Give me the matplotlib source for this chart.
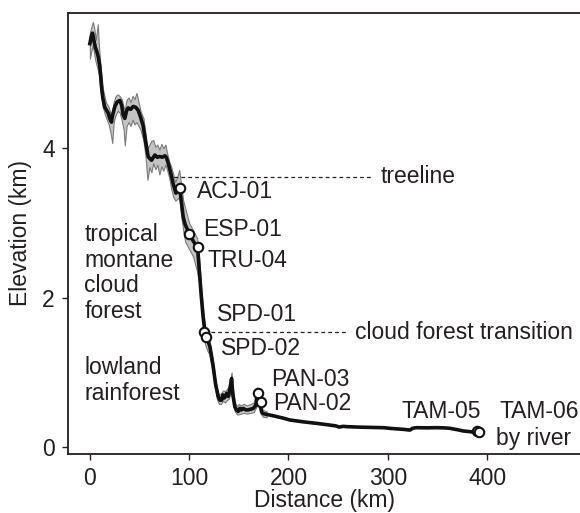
import matplotlib
matplotlib.use("Agg")
import matplotlib.pyplot as plt
import numpy as np

plt.rcParams['font.family'] = ['Liberation Sans', 'DejaVu Sans']

# ---- data ----
dist_km = [0, 1.5, 2.7, 4, 5.5, 6.7, 8.5, 10, 11, 11.8, 13, 15, 16.8, 18.5, 20, 21.8, 23, 25.2,
           27.5, 30.2, 32, 33.5, 35.2, 37, 38.6, 41, 43.6, 46, 48.6, 51, 53.7, 56, 58.7, 60.5,
           62.1, 64, 65.5, 68, 70.5, 73, 75.5, 77, 78.9, 80.5, 82.3, 84, 86.6, 88.5, 90.6, 92,
           94, 96, 98, 100, 102, 104, 106, 108.4, 110, 112, 114, 115.8, 117, 119, 120.8, 122.5,
           124.2, 126.5, 129.2, 131, 132.6, 134, 135.5, 137.7, 139.4, 141, 142.7, 144, 146,
           147.5, 149.4, 151, 152.5, 154.4, 157, 159.4, 162, 164.5, 166.5, 167.8, 168.5, 170,
           171.5, 173, 174.5, 177.9, 185, 194.7, 201.4, 215, 228.3, 240, 248, 251, 255, 258.5,
           270, 285, 295.4, 305, 315.6, 322.3, 325, 329, 340, 349, 356, 362.5, 370, 376, 382,
           387.7, 392]
elev_km = [5.40, 5.50, 5.54, 5.45, 5.35, 5.31, 5.22, 5.10, 4.95, 4.82, 4.68, 4.55, 4.51, 4.47,
           4.40, 4.35, 4.45, 4.56, 4.62, 4.64, 4.58, 4.45, 4.40, 4.50, 4.54, 4.52, 4.56, 4.55,
           4.51, 4.42, 4.30, 4.10, 3.89, 3.86, 3.84, 3.88, 3.91, 3.88, 3.89, 3.88, 3.90, 3.88,
           3.80, 3.72, 3.62, 3.52, 3.40, 3.43, 3.47, 3.30, 3.08, 2.98, 2.92, 2.85, 2.82, 2.76,
           2.72, 2.68, 2.40, 2.05, 1.75, 1.55, 1.48, 1.42, 1.35, 1.22, 1.08, 0.85, 0.68, 0.63,
           0.63, 0.70, 0.66, 0.72, 0.68, 0.78, 0.92, 0.70, 0.54, 0.50, 0.48, 0.52, 0.50, 0.52,
           0.50, 0.50, 0.51, 0.52, 0.55, 0.60, 0.70, 0.68, 0.58, 0.47, 0.45, 0.44, 0.42, 0.39,
           0.365, 0.34, 0.32, 0.30, 0.285, 0.27, 0.28, 0.276, 0.27, 0.265, 0.262, 0.25, 0.24,
           0.23, 0.255, 0.262, 0.26, 0.262, 0.26, 0.254, 0.235, 0.218, 0.21, 0.20, 0.20]

band_x = [0, 1.5, 3, 4.5, 6, 8, 9, 11, 13, 16, 19, 21, 22.5, 24, 26, 28, 30, 32, 34, 35.2, 37,
          39, 41, 43, 45, 47, 49, 51, 54, 56, 58, 60, 62, 63.8, 66, 68, 70, 72, 74, 76, 78, 80,
          82, 84, 86, 88, 90, 92, 94, 96, 98, 100, 102, 104, 106, 108, 110, 112, 114, 116, 118,
          120, 122, 124, 126, 128, 130, 132, 134, 136, 138, 140, 142.7, 144, 146, 148, 150,
          152, 155, 158, 162, 165, 168, 170, 172, 174, 178]
band_lo = [5.20, 5.30, 5.38, 5.25, 5.15, 5.05, 5.00, 4.75, 4.55, 4.42, 4.32, 4.20, 4.07, 4.35,
           4.45, 4.50, 4.48, 4.38, 4.25, 4.04, 4.30, 4.35, 4.30, 4.38, 4.32, 4.35, 4.30, 4.25,
           4.10, 3.90, 3.58, 3.75, 3.68, 3.80, 3.72, 3.78, 3.65, 3.76, 3.70, 3.78, 3.70, 3.60,
           3.45, 3.35, 3.30, 3.32, 3.35, 3.10, 2.90, 2.75, 2.70, 2.65, 2.60, 2.55, 2.45, 2.35,
           2.20, 1.90, 1.62, 1.38, 1.30, 1.25, 1.12, 0.98, 0.80, 0.64, 0.58, 0.58, 0.62, 0.60,
           0.63, 0.65, 0.80, 0.62, 0.48, 0.44, 0.44, 0.45, 0.46, 0.45, 0.46, 0.47, 0.55, 0.55,
           0.45, 0.41, 0.40]
band_hi = [5.55, 5.62, 5.69, 5.60, 5.45, 5.66, 5.40, 5.05, 4.80, 4.62, 4.55, 4.45, 4.50, 4.62,
           4.70, 4.72, 4.70, 4.66, 4.55, 4.52, 4.65, 4.68, 4.62, 4.70, 4.66, 4.74, 4.62, 4.50,
           4.40, 4.20, 4.00, 4.05, 4.10, 4.11, 4.02, 4.05, 3.98, 4.06, 4.00, 4.05, 3.92, 3.82,
           3.75, 3.65, 3.55, 3.62, 3.71, 3.50, 3.30, 3.20, 3.10, 3.00, 2.95, 2.90, 2.85, 2.80,
           2.55, 2.15, 1.85, 1.62, 1.55, 1.45, 1.30, 1.15, 0.95, 0.78, 0.70, 0.72, 0.76, 0.75,
           0.78, 0.82, 1.00, 0.78, 0.60, 0.55, 0.58, 0.56, 0.58, 0.56, 0.58, 0.60, 0.80, 0.75,
           0.65, 0.50, 0.48]

site_names = ['ACJ-01', 'ESP-01', 'TRU-04', 'SPD-01', 'SPD-02', 'PAN-03', 'PAN-02',
              'TAM-05', 'TAM-06']
site_dist = [91.0, 100.0, 108.4, 115.1, 116.8, 169.5, 171.9, 389.3, 392.0]
site_elev = [3.47, 2.85, 2.68, 1.54, 1.48, 0.72, 0.61, 0.22, 0.20]

treeline_km = 3.62
transition_km = 1.54

x_ticks = [0, 100, 200, 300, 400]
y_ticks = [0, 2, 4]

# ---- figure ----
fig = plt.figure(figsize=(5.8, 5.13), dpi=100)
ax = fig.add_axes([68 / 580, 59 / 513, 1 - 68 / 580, 441 / 513])
txt = '#231f20'
fs = 16.5

ax.fill_between(band_x, band_lo, band_hi, facecolor='#c4c4c4', edgecolor='#7a7a7a',
                linewidth=0.8, zorder=1)
ax.plot(dist_km, elev_km, color='#111111', lw=2.6, solid_joinstyle='round', zorder=2)

ax.plot([85, 285], [treeline_km, treeline_km], ls=(0, (3, 2.5)), color=txt, lw=0.9, zorder=1.5)
ax.plot([115, 258], [transition_km, transition_km], ls=(0, (3, 2.5)), color=txt, lw=0.9,
        zorder=1.5)
ax.text(293, treeline_km, 'treeline', fontsize=fs, color=txt, va='center', ha='left')
ax.text(267, transition_km, 'cloud forest transition', fontsize=fs, color=txt, va='center',
        ha='left')

ax.plot(site_dist, site_elev, ls='none', marker='o', ms=6.8, mfc='white', mec='#111111',
        mew=1.5, zorder=3)

label_pos = {
    'ACJ-01': (107.5, 3.42), 'ESP-01': (114, 2.92), 'TRU-04': (118, 2.50),
    'SPD-01': (127.6, 1.77), 'SPD-02': (132, 1.32), 'PAN-03': (183, 0.91),
    'PAN-02': (184.6, 0.59), 'TAM-05': (313.9, 0.476), 'TAM-06': (412.2, 0.476),
}
for name in site_names:
    lx, ly = label_pos[name]
    ax.text(lx, ly, name, fontsize=fs, color=txt, va='center', ha='left')
ax.text(408.9, 0.12, 'by river', fontsize=fs, color=txt, va='center', ha='left')

ax.text(-5.7, 3.0, 'tropical\nmontane\ncloud\nforest', fontsize=fs, color=txt, va='top',
        ha='left', linespacing=1.15)
ax.text(-5.7, 1.22, 'lowland\nrainforest', fontsize=fs, color=txt, va='top', ha='left',
        linespacing=1.15)

ax.set_xlim(-22, 493.5)
ax.set_ylim(-0.09, 5.81)
ax.set_xticks(x_ticks)
ax.set_yticks(y_ticks)
ax.tick_params(direction='out', length=4.5, width=1, labelsize=fs, colors=txt, pad=5)
for s in ['left', 'bottom', 'top']:
    ax.spines[s].set_linewidth(1.3)
    ax.spines[s].set_color(txt)
ax.spines['right'].set_visible(False)
ax.set_xlabel('Distance (km)', fontsize=fs, color=txt, labelpad=-1)
ax.set_ylabel('Elevation (km)', fontsize=fs, color=txt, labelpad=7)

fig.savefig('out.png', dpi=100)
